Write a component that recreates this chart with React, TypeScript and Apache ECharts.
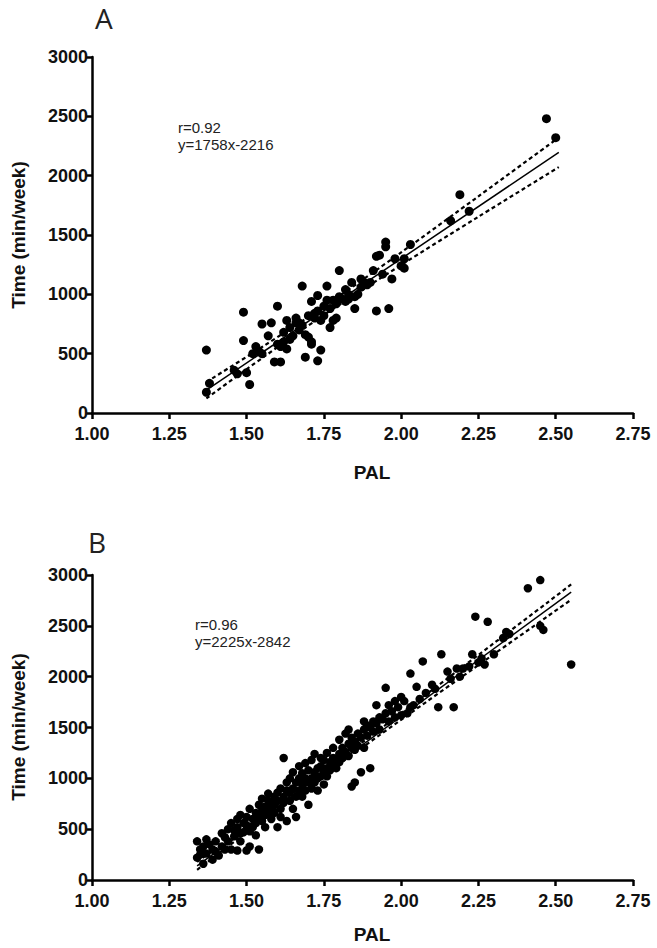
import React, { useEffect, useRef } from "react";
import * as echarts from "echarts";

// ---------- Panel A data (PAL, Time min/week) ----------
const panelAPoints: number[][] = [
  [1.37, 530], [1.37, 175], [1.38, 250], [1.46, 360], [1.47, 330], [1.49, 850], [1.49, 610], [1.50, 340], [1.51, 240],
  [1.52, 500], [1.53, 560], [1.54, 520], [1.55, 500], [1.55, 750], [1.57, 650], [1.58, 760], [1.59, 430], [1.60, 900],
  [1.60, 580], [1.61, 430], [1.61, 560], [1.62, 600], [1.62, 680], [1.63, 780], [1.63, 540], [1.64, 620], [1.64, 720],
  [1.65, 650], [1.66, 800], [1.66, 760], [1.67, 700], [1.67, 760], [1.68, 1070], [1.68, 740], [1.69, 470], [1.69, 660],
  [1.70, 640], [1.70, 820], [1.71, 580], [1.71, 940], [1.71, 600], [1.72, 840], [1.72, 800], [1.73, 440], [1.73, 990],
  [1.73, 860], [1.74, 530], [1.74, 780], [1.75, 820], [1.75, 900], [1.76, 1070], [1.76, 950], [1.77, 720], [1.77, 880],
  [1.78, 950], [1.78, 780], [1.79, 800], [1.79, 920], [1.80, 980], [1.80, 1200], [1.81, 960], [1.82, 1040], [1.82, 940],
  [1.83, 960], [1.83, 1000], [1.84, 1100], [1.85, 880], [1.85, 980], [1.86, 1000], [1.87, 1130], [1.87, 1060], [1.88, 1100],
  [1.89, 1080], [1.90, 1100], [1.91, 1200], [1.92, 860], [1.92, 1320], [1.93, 1330], [1.94, 1170], [1.95, 1400], [1.95, 1440],
  [1.96, 880], [1.97, 1130], [1.98, 1300], [2.00, 1240], [2.01, 1220], [2.01, 1300], [2.03, 1420], [2.16, 1620], [2.19, 1840],
  [2.22, 1700], [2.47, 2480], [2.50, 2320],
];
const panelAFitSlope = 1758;
const panelAFitIntercept = -2216;
const panelAFitRange = [1.37, 2.51];
const panelACiX = [1.37, 1.55, 1.75, 2.0, 2.25, 2.51];
const panelACiUpper = [261, 556, 896, 1353, 1826, 2322];
const panelACiLower = [123, 462, 826, 1247, 1654, 2072];
const panelALabels = ["r=0.92", "y=1758x-2216"];

// ---------- Panel B data ----------
const panelBPoints: number[][] = [
  [1.34, 220], [1.34, 380], [1.35, 300], [1.35, 250], [1.36, 330], [1.36, 160], [1.37, 260], [1.37, 400], [1.38, 350],
  [1.39, 300], [1.39, 200], [1.40, 280], [1.40, 380], [1.41, 240], [1.42, 330], [1.42, 460], [1.43, 300], [1.43, 420],
  [1.44, 380], [1.44, 500], [1.45, 300], [1.45, 560], [1.46, 430], [1.46, 490], [1.47, 290], [1.47, 600], [1.47, 520],
  [1.48, 460], [1.48, 380], [1.48, 640], [1.49, 560], [1.49, 470], [1.50, 290], [1.50, 540], [1.50, 620], [1.51, 330],
  [1.51, 480], [1.51, 700], [1.52, 520], [1.52, 600], [1.53, 660], [1.53, 560], [1.53, 440], [1.54, 620], [1.54, 740],
  [1.54, 300], [1.55, 580], [1.55, 680], [1.55, 800], [1.56, 640], [1.56, 720], [1.56, 520], [1.57, 780], [1.57, 660],
  [1.57, 850], [1.58, 700], [1.58, 600], [1.58, 760], [1.59, 820], [1.59, 740], [1.59, 660], [1.60, 860], [1.60, 520],
  [1.60, 780], [1.61, 700], [1.61, 900], [1.61, 620], [1.62, 820], [1.62, 1200], [1.62, 760], [1.63, 880], [1.63, 580],
  [1.63, 960], [1.64, 780], [1.64, 860], [1.64, 1000], [1.65, 900], [1.65, 700], [1.65, 1060], [1.66, 820], [1.66, 960],
  [1.66, 620], [1.67, 1000], [1.67, 880], [1.67, 1120], [1.68, 940], [1.68, 820], [1.68, 1050], [1.69, 1000], [1.69, 1150],
  [1.69, 880], [1.70, 960], [1.70, 1080], [1.70, 740], [1.71, 1000], [1.71, 1180], [1.71, 900], [1.72, 1060], [1.72, 1240],
  [1.72, 960], [1.73, 1100], [1.73, 1000], [1.73, 880], [1.74, 1120], [1.74, 1200], [1.74, 1020], [1.75, 1060], [1.75, 1180],
  [1.75, 940], [1.76, 1100], [1.76, 1250], [1.76, 1020], [1.77, 1160], [1.77, 1080], [1.78, 1200], [1.78, 1120], [1.78, 1300],
  [1.79, 1180], [1.79, 1100], [1.80, 1240], [1.80, 1160], [1.80, 1380], [1.81, 1300], [1.81, 1200], [1.82, 1440], [1.82, 1260],
  [1.83, 1340], [1.83, 1220], [1.83, 1480], [1.84, 1300], [1.84, 1400], [1.84, 920], [1.85, 1360], [1.85, 1280], [1.85, 960],
  [1.86, 1320], [1.86, 1440], [1.87, 1060], [1.87, 1400], [1.88, 1480], [1.88, 1560], [1.88, 1300], [1.89, 1520], [1.89, 1420],
  [1.90, 1500], [1.90, 1100], [1.91, 1560], [1.91, 1460], [1.92, 1720], [1.92, 1540], [1.93, 1600], [1.93, 1480], [1.94, 1580],
  [1.95, 1890], [1.95, 1640], [1.96, 1720], [1.96, 1560], [1.97, 1660], [1.98, 1760], [1.98, 1600], [1.99, 1700], [2.00, 1800],
  [2.00, 1620], [2.01, 1760], [2.02, 1640], [2.03, 2030], [2.03, 1700], [2.04, 1720], [2.05, 1900], [2.06, 1780], [2.07, 2150],
  [2.08, 1840], [2.10, 1920], [2.11, 1880], [2.12, 1700], [2.13, 2220], [2.15, 2050], [2.16, 1980], [2.17, 1700], [2.18, 2080],
  [2.19, 2000], [2.20, 2080], [2.22, 2100], [2.23, 2220], [2.24, 2590], [2.25, 2140], [2.26, 2180], [2.27, 2120], [2.28, 2540],
  [2.30, 2220], [2.33, 2380], [2.34, 2440], [2.35, 2420], [2.41, 2870], [2.45, 2950], [2.45, 2500], [2.46, 2460], [2.55, 2120],
];
const panelBFitSlope = 2225;
const panelBFitIntercept = -2842;
const panelBFitRange = [1.34, 2.55];
const panelBCiX = [1.34, 1.55, 1.75, 2.0, 2.25, 2.55];
const panelBCiUpper = [178, 632, 1072, 1640, 2214, 2907];
const panelBCiLower = [100, 582, 1032, 1576, 2114, 2757];
const panelBLabels = ["r=0.96", "y=2225x-2842"];

const xTicks = { min: 1, max: 2.75, interval: 0.25 };
const yTicks = { min: 0, max: 3000, interval: 500 };

const W = 657;
const H = 948;
const GRID_LEFT = 92;
const GRID_RIGHT = 24;
const grids = [
  { top: 57, height: 356 },
  { top: 575, height: 305 },
];

const FONT = "Liberation Sans, Arial, sans-serif";

export default function App() {
  const ref = useRef<HTMLDivElement>(null);
  useEffect(() => {
    if (!ref.current) return;
    const chart = echarts.init(ref.current, undefined, { renderer: "svg", width: W, height: H });

    const xAxisCommon = (gridIndex: number) => ({
      type: "value",
      gridIndex,
      min: xTicks.min,
      max: xTicks.max,
      interval: xTicks.interval,
      axisLine: { show: true, onZero: false, lineStyle: { color: "#000", width: 2.5 } },
      axisTick: { show: true, length: 6, lineStyle: { color: "#000", width: 2.5 } },
      axisLabel: {
        formatter: (v: number) => v.toFixed(2),
        color: "#111",
        fontSize: 18,
        fontWeight: "bold",
        fontFamily: FONT,
        margin: 12,
      },
      splitLine: { show: false },
    });
    const yAxisCommon = (gridIndex: number) => ({
      type: "value",
      gridIndex,
      min: yTicks.min,
      max: yTicks.max,
      interval: yTicks.interval,
      axisLine: { show: true, onZero: false, lineStyle: { color: "#000", width: 2.5 } },
      axisTick: { show: true, length: 6, lineStyle: { color: "#000", width: 2.5 } },
      axisLabel: {
        formatter: (v: number) => String(v),
        color: "#111",
        fontSize: 18,
        fontWeight: "bold",
        fontFamily: FONT,
        margin: 4,
      },
      splitLine: { show: false },
    });

    const fitLine = (slope: number, intercept: number, range: number[]) =>
      range.map((x) => [x, slope * x + intercept]);
    const ciLine = (xs: number[], ys: number[]) => xs.map((x, i) => [x, ys[i]]);

    const panels = [
      { pts: panelAPoints, slope: panelAFitSlope, icpt: panelAFitIntercept, range: panelAFitRange, cx: panelACiX, up: panelACiUpper, lo: panelACiLower, size: 9 },
      { pts: panelBPoints, slope: panelBFitSlope, icpt: panelBFitIntercept, range: panelBFitRange, cx: panelBCiX, up: panelBCiUpper, lo: panelBCiLower, size: 8.5 },
    ];

    const series: any[] = [];
    panels.forEach((p, i) => {
      series.push({
        type: "scatter",
        xAxisIndex: i,
        yAxisIndex: i,
        data: p.pts,
        symbol: "circle",
        symbolSize: p.size,
        itemStyle: { color: "#000", opacity: 1 },
        z: 3,
      });
      series.push({
        type: "line",
        xAxisIndex: i,
        yAxisIndex: i,
        data: fitLine(p.slope, p.icpt, p.range),
        showSymbol: false,
        lineStyle: { color: "#000", width: 1.5 },
        z: 4,
      });
      [p.up, p.lo].forEach((ys) => {
        series.push({
          type: "line",
          xAxisIndex: i,
          yAxisIndex: i,
          data: ciLine(p.cx, ys),
          showSymbol: false,
          smooth: 0.3,
          lineStyle: { color: "#000", width: 2.2, type: [4, 3] },
          z: 4,
        });
      });
    });

    const txt = (x: number, y: number, text: string, size: number, extra: any = {}) => ({
      type: "text",
      x,
      y,
      style: { text, fontSize: size, fontFamily: FONT, fill: "#222", ...extra },
    });

    const graphic: any[] = [
      txt(95, 4, "A", 28, { fontFamily: "Open Sans, sans-serif" }),
      txt(88, 528, "B", 28, { fontFamily: "Open Sans, sans-serif" }),
      txt(178, 120, panelALabels[0], 15),
      txt(178, 137, panelALabels[1], 15),
      txt(195, 617, panelBLabels[0], 15),
      txt(195, 634, panelBLabels[1], 15),
      txt(372, 472, "PAL", 19, { fontWeight: "bold", align: "center", verticalAlign: "middle", fill: "#111" }),
      txt(372, 934, "PAL", 19, { fontWeight: "bold", align: "center", verticalAlign: "middle", fill: "#111" }),
      {
        type: "text",
        x: 18,
        y: 235,
        rotation: Math.PI / 2,
        style: { text: "Time (min/week)", fontSize: 19, fontWeight: "bold", fontFamily: FONT, fill: "#111", align: "center", verticalAlign: "middle" },
      },
      {
        type: "text",
        x: 18,
        y: 727,
        rotation: Math.PI / 2,
        style: { text: "Time (min/week)", fontSize: 19, fontWeight: "bold", fontFamily: FONT, fill: "#111", align: "center", verticalAlign: "middle" },
      },
    ];

    chart.setOption({
      animation: false,
      backgroundColor: "#fff",
      grid: grids.map((g) => ({ left: GRID_LEFT, right: GRID_RIGHT, top: g.top, height: g.height, containLabel: false })),
      xAxis: [xAxisCommon(0), xAxisCommon(1)],
      yAxis: [yAxisCommon(0), yAxisCommon(1)],
      series,
      graphic,
    });
    return () => chart.dispose();
  }, []);
  return <div ref={ref} style={{ position: "fixed", left: 0, top: 0, width: W, height: H }} />;
}
